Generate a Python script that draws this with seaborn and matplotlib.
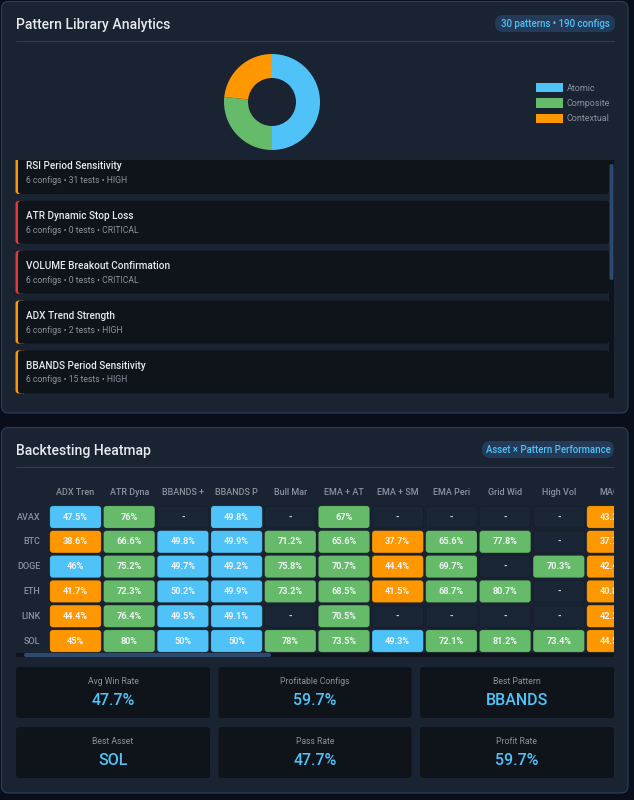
import numpy as np
import pandas as pd
import matplotlib
matplotlib.use("Agg")
import matplotlib.pyplot as plt
import seaborn as sns
from matplotlib.colors import ListedColormap, BoundaryNorm
from matplotlib.patches import FancyBboxPatch, Rectangle
from matplotlib.transforms import Bbox, TransformedBbox, IdentityTransform

# ---------- data ----------
pie_labels = ["Atomic", "Composite", "Contextual"]
pie_values = [15, 8, 7]
badge_top = "30 patterns • 190 configs"
badge_bottom = "Asset × Pattern Performance"
card_titles = ["RSI Period Sensitivity", "ATR Dynamic Stop Loss", "VOLUME Breakout Confirmation",
               "ADX Trend Strength", "BBANDS Period Sensitivity"]
card_subs = ["6 configs • 31 tests • HIGH", "6 configs • 0 tests • CRITICAL", "6 configs • 0 tests • CRITICAL",
             "6 configs • 2 tests • HIGH", "6 configs • 15 tests • HIGH"]
assets = ["AVAX", "BTC", "DOGE", "ETH", "LINK", "SOL"]
patterns = ["ADX Tren", "ATR Dyna", "BBANDS +", "BBANDS P", "Bull Mar", "EMA + AT",
            "EMA + SM", "EMA Peri", "Grid Wid", "High Vol", "MACD"]
n = np.nan
avax = [47.5, 76, n, 49.8, n, 67, n, n, n, n, 43.3]
btc = [38.6, 66.6, 49.8, 49.9, 71.2, 65.6, 37.7, 65.6, 77.8, n, 37.7]
doge = [46, 75.2, 49.7, 49.2, 75.8, 70.7, 44.4, 69.7, n, 70.3, 42.4]
eth = [41.7, 72.3, 50.2, 49.9, 73.2, 68.5, 41.5, 68.7, 80.7, n, 40.8]
link = [44.4, 76.4, 49.5, 49.1, n, 70.5, n, n, n, n, 42.3]
sol = [45, 80, 50, 50, 78, 73.5, 49.3, 72.1, 81.2, 73.4, 44.5]
stat_labels = ["Avg Win Rate", "Profitable Configs", "Best Pattern", "Best Asset", "Pass Rate", "Profit Rate"]
stat_values = ["47.7%", "59.7%", "BBANDS", "SOL", "47.7%", "59.7%"]

# ---------- style ----------
BG = "#0a0e1a"; PANEL = "#1a2332"; EDGE = "#2a3f5f"; CARD = "#0f141a"; EMPTY = "#1a2535"
BLUE = "#4fc3f7"; GREEN = "#66bb6a"; ORANGE = "#ff9800"; RED = "#e53935"
THUMB = "#2c4a70"; BADGE = "#233a58"; LIGHT = "#e6e9ee"; MUTED = "#8a929e"
sev_colors = [ORANGE, RED, RED, ORANGE, ORANGE]
W, H = 634, 800

sns.set_theme(style="dark")
plt.rcParams["font.family"] = ["Roboto", "DejaVu Sans"]
fig = plt.figure(figsize=(W / 100, H / 100), dpi=100, facecolor=BG)


def px(x0, y0, x1, y1):
    return [x0 / W, 1 - y1 / H, (x1 - x0) / W, (y1 - y0) / H]


bg = fig.add_axes([0, 0, 1, 1])
bg.set_xlim(0, W); bg.set_ylim(H, 0); bg.axis("off")


def box(x0, y0, x1, y1, r, fc, ec="none", lw=0, z=1, clip=None):
    p = FancyBboxPatch((x0, y0), x1 - x0, y1 - y0, boxstyle=f"round,pad=0,rounding_size={r}",
                       fc=fc, ec=ec, lw=lw, zorder=z)
    bg.add_patch(p)
    if clip is not None:
        p.set_clip_path(clip)
    return p


def px_pt(v):
    return v * 0.72


# panels
box(1.5, 1.5, 628, 413, 7, PANEL, EDGE, 0.8)
box(1.5, 427.5, 628, 793, 7, PANEL, EDGE, 0.8)
for yy in (41, 467):
    bg.plot([16, 614], [yy, yy], color=EDGE, lw=0.8, zorder=2)

# titles and badges
for y, t in ((24.6, "Pattern Library Analytics"), (450.6, "Backtesting Heatmap")):
    bg.text(15.5, y, t, color=LIGHT, fontsize=px_pt(14), fontweight="medium", va="center", ha="left", zorder=3)
box(495, 15, 615, 32, 8, BADGE, z=2)
bg.text(555, 24, badge_top, color=BLUE, fontsize=px_pt(9.6), fontweight="medium", va="center", ha="center", zorder=3)
box(482, 441, 614, 458, 8, BADGE, z=2)
bg.text(548, 450, badge_bottom, color=BLUE, fontsize=px_pt(9.6), fontweight="medium", va="center", ha="center", zorder=3)

# donut
ax_pie = fig.add_axes(px(224, 54, 320, 150))
wedges, _ = ax_pie.pie(pie_values, colors=[BLUE, GREEN, ORANGE], startangle=90, counterclock=False,
                       radius=1, wedgeprops=dict(width=0.5, edgecolor="none"))
ax_pie.set_xlim(-1, 1); ax_pie.set_ylim(-1, 1)
ax_pie.patch.set_alpha(0)
fig.legend(wedges, pie_labels, loc="upper left", bbox_to_anchor=(536 / W, 1 - 83 / H), frameon=False,
           fontsize=px_pt(9), labelcolor=MUTED, handlelength=3.0, handleheight=1.24, handletextpad=0.42,
           labelspacing=0.62, borderpad=0, borderaxespad=0)

# scrolling card list
clip_list = Rectangle((15, 160), 600, 238, transform=bg.transData)
bg.add_patch(Rectangle((609, 160), 5, 238, fc=CARD, ec="none", zorder=2))
box(609.5, 164, 613.5, 280, 2, THUMB, z=3)
for i, (title, sub, col) in enumerate(zip(card_titles, card_subs, sev_colors)):
    top = 151 + i * 49.85
    box(15.5, top, 26, top + 43, 3, col, z=2, clip=clip_list)
    box(18, top, 609, top + 43, 3, CARD, z=2.5, clip=clip_list)
    bg.text(25.5, top + 15.2, title, color=LIGHT, fontsize=px_pt(10), fontweight="medium",
            va="center", ha="left", zorder=3)
    bg.text(25.5, top + 29.5, sub, color=MUTED, fontsize=px_pt(8.6), va="center", ha="left", zorder=3)

# heatmap
values = pd.DataFrame([avax, btc, doge, eth, link, sol], index=assets, columns=patterns, dtype=float)
annot = values.map(lambda v: "" if pd.isna(v) else f"{v:g}%")
cmap = ListedColormap([ORANGE, BLUE, GREEN])
cmap.set_bad(EMPTY)
norm = BoundaryNorm([0, 45.5, 60, 100], 3)
PITCH_X, PITCH_Y = 53.7, 24.8
hx0, hy0 = 48.65, 504.6
ax = fig.add_axes(px(hx0, hy0, 614, hy0 + 6 * PITCH_Y))
sns.heatmap(values, ax=ax, cmap=cmap, norm=norm, cbar=False, annot=annot, fmt="",
            annot_kws=dict(color="#eef2f5", fontsize=px_pt(9.2), fontweight="bold"))
ax.set_xlim(0, (614 - hx0) / PITCH_X)
ax.patch.set_alpha(0)
mesh = ax.collections[0]
mesh.update_scalarmappable()
face = mesh.get_facecolor()
mesh.set_visible(False)
ncol = len(patterns)
gap_x, gap_y = 2.4 / PITCH_X, 2.6 / PITCH_Y
for r, asset in enumerate(assets):
    for c, pat in enumerate(patterns):
        ax.add_patch(FancyBboxPatch((c + gap_x / 2, r + gap_y / 2), 1 - gap_x, 1 - gap_y,
                                    boxstyle=f"round,pad=0,rounding_size={3 / PITCH_X}",
                                    mutation_aspect=PITCH_X / PITCH_Y,
                                    fc=face[r * ncol + c], ec="#00000030", lw=0.5, zorder=1))
        if pd.isna(values.loc[asset, pat]):
            ax.text(c + 0.5, r + 0.5, "-", color="#d5dae0", ha="center", va="center",
                    fontsize=px_pt(9.2), fontweight="bold", zorder=3)
for t in ax.texts:
    t.set_zorder(3)
    t.set_clip_on(True)
ax.set_xlabel(""); ax.set_ylabel("")
clip_box = TransformedBbox(Bbox([[0, 0], [614, 800]]), IdentityTransform())
ax.xaxis.tick_top()
ax.set_xticks(np.arange(ncol) + 0.5, patterns, rotation=0, color=MUTED, fontsize=px_pt(9), fontweight="medium")
ax.tick_params(axis="x", length=0, pad=5.5)
ax.set_yticks(np.arange(len(assets)) + 0.5, assets, rotation=0, color=MUTED, fontsize=px_pt(9), fontweight="medium", va="center")
ax.tick_params(axis="y", length=0, pad=6)
for lab in ax.get_xticklabels():
    lab.set_clip_box(clip_box); lab.set_clip_on(True)
for s in ax.spines.values():
    s.set_visible(False)

# horizontal scrollbar
bg.add_patch(Rectangle((16, 653), 598, 4, fc=CARD, ec="none", zorder=2))
box(24, 653, 271, 657, 2, THUMB, z=3)

# stat cards
xs = [(16, 210), (218.5, 411.5), (420, 614)]
ys = [(667, 718), (727, 778)]
for i, (lab, val) in enumerate(zip(stat_labels, stat_values)):
    x0, x1 = xs[i % 3]
    y0, y1 = ys[i // 3]
    box(x0, y0, x1, y1, 3, CARD, z=2)
    bg.text((x0 + x1) / 2, y0 + 14, lab, color=MUTED, fontsize=px_pt(8.6), ha="center", va="center", zorder=3)
    bg.text((x0 + x1) / 2, y0 + 33.5, val, color=BLUE, fontsize=px_pt(16), fontweight="medium",
            ha="center", va="center", zorder=3)

fig.savefig("out.png", dpi=100, facecolor=BG)
